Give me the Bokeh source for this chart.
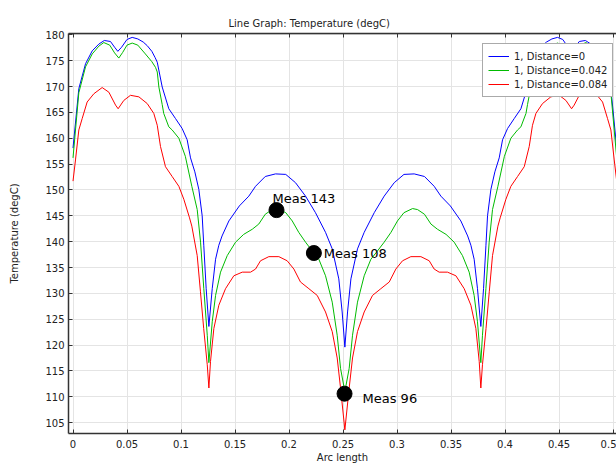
from bokeh.plotting import figure
from bokeh.models import Range1d, FixedTicker, LinearAxis, Title, NumeralTickFormatter
from bokeh.embed import file_html
from bokeh.resources import INLINE
from bokeh.core.properties import value

# ---------------- data ----------------
title_text = "Line Graph: Temperature (degC)"
series_names = ["1, Distance=0", "1, Distance=0.042", "1, Distance=0.084"]

blue_x = [0.0000, 0.0054, 0.0116, 0.0178, 0.0239, 0.0290, 0.0347, 0.0385, 0.0415, 0.0450,
          0.0500, 0.0548, 0.0600, 0.0650, 0.0687, 0.0730, 0.0760, 0.0780, 0.0826, 0.0887,
          0.0949, 0.1010, 0.1057, 0.1088, 0.1128, 0.1165, 0.1196, 0.1211, 0.1233, 0.1258,
          0.1289, 0.1320, 0.1350, 0.1380, 0.1443, 0.1540, 0.1628, 0.1690, 0.1780, 0.1875,
          0.1970, 0.2060, 0.2153, 0.2245, 0.2338, 0.2400, 0.2461, 0.2492, 0.2517,
          0.2542, 0.2573, 0.2634, 0.2696, 0.2789, 0.2881, 0.2974, 0.3064, 0.3159, 0.3254,
          0.3344, 0.3406, 0.3494, 0.3591, 0.3654, 0.3684, 0.3714, 0.3745, 0.3776, 0.3801,
          0.3823, 0.3838, 0.3869, 0.3906, 0.3946, 0.3977, 0.4024, 0.4085, 0.4147, 0.4208,
          0.4254, 0.4274, 0.4304, 0.4347, 0.4384, 0.4434, 0.4486, 0.4534, 0.4584, 0.4619,
          0.4649, 0.4687, 0.4744, 0.4795, 0.4856, 0.4918, 0.4980, 0.5034]
blue_t = [158.1, 169.6, 174.4, 176.9, 178.2, 178.9, 178.7, 177.6, 176.8, 177.6,
          179.1, 179.5, 179.2, 178.6, 177.9, 176.8, 175.6, 174.7, 169.9, 165.7,
          163.8, 161.9, 159.7, 156.2, 153.5, 150.1, 145.0, 139.2, 130.9, 123.6,
          130.9, 136.6, 139.3, 141.1, 144.0, 146.9, 148.8, 150.7, 152.6, 153.1,
          153.0, 151.4, 148.8, 145.6, 141.8, 138.6, 132.8, 126.4, 119.6,
          126.4, 132.8, 138.6, 141.8, 145.6, 148.8, 151.4, 153.0, 153.1, 152.6,
          150.7, 148.8, 146.9, 144.0, 141.1, 139.3, 136.6, 130.9, 123.6, 130.9,
          139.2, 145.0, 150.1, 153.5, 156.2, 159.7, 161.9, 163.8, 165.7, 169.9,
          174.7, 175.6, 176.8, 177.9, 178.6, 179.2, 179.5, 179.1, 177.6, 176.8,
          177.6, 178.7, 178.9, 178.2, 176.9, 174.4, 169.6, 158.1]

green_x = [0.0000, 0.0054, 0.0116, 0.0178, 0.0239, 0.0285, 0.0340, 0.0385, 0.0424, 0.0460,
           0.0500, 0.0548, 0.0600, 0.0670, 0.0730, 0.0764, 0.0780, 0.0795, 0.0826, 0.0840,
           0.0887, 0.0918, 0.0980, 0.1040, 0.1100, 0.1150, 0.1181, 0.1211, 0.1243, 0.1258,
           0.1289, 0.1320, 0.1366, 0.1428, 0.1505, 0.1580, 0.1660, 0.1720, 0.1780, 0.1844,
           0.1890, 0.1970, 0.2030, 0.2090, 0.2153, 0.2215, 0.2276, 0.2338, 0.2400, 0.2446,
           0.2477, 0.2517,
           0.2557, 0.2588, 0.2634, 0.2696, 0.2758, 0.2819, 0.2881, 0.2944, 0.3004, 0.3064,
           0.3144, 0.3190, 0.3254, 0.3314, 0.3374, 0.3454, 0.3529, 0.3606, 0.3668, 0.3714,
           0.3745, 0.3776, 0.3791, 0.3823, 0.3853, 0.3884, 0.3934, 0.3994, 0.4054, 0.4116,
           0.4147, 0.4194, 0.4208, 0.4239, 0.4254, 0.4270, 0.4304, 0.4364, 0.4434, 0.4486,
           0.4534, 0.4574, 0.4610, 0.4649, 0.4694, 0.4749, 0.4795, 0.4856, 0.4918, 0.4980,
           0.5034]
green_t = [156.2, 168.8, 173.8, 176.3, 177.8, 178.5, 178.0, 176.5, 175.5, 176.6,
           178.0, 178.4, 178.0, 176.3, 174.8, 173.7, 172.8, 169.9, 166.5, 164.8,
           162.2, 161.6, 160.0, 156.5, 150.7, 146.2, 139.9, 130.9, 121.9, 116.6,
           124.5, 129.6, 134.1, 137.3, 139.9, 141.4, 142.4, 143.4, 145.3, 146.2,
           146.4, 145.6, 144.0, 141.8, 139.9, 138.2, 136.6, 133.4, 128.3, 121.9,
           115.5, 111.0,
           115.5, 121.9, 128.3, 133.4, 136.6, 138.2, 139.9, 141.8, 144.0, 145.6,
           146.4, 146.2, 145.3, 143.4, 142.4, 141.4, 139.9, 137.3, 134.1, 129.6,
           124.5, 116.6, 121.9, 130.9, 139.9, 146.2, 150.7, 156.5, 160.0, 161.6,
           162.2, 164.8, 166.5, 169.9, 172.8, 173.7, 174.8, 176.3, 178.0, 178.4,
           178.0, 176.6, 175.5, 176.5, 178.0, 178.5, 177.8, 176.3, 173.8, 168.8,
           156.2]

red_x = [0.0000, 0.0023, 0.0054, 0.0085, 0.0131, 0.0193, 0.0270, 0.0332, 0.0394, 0.0418,
         0.0470, 0.0532, 0.0610, 0.0687, 0.0748, 0.0780, 0.0810, 0.0856, 0.0918, 0.0980,
         0.1026, 0.1079, 0.1100, 0.1150, 0.1180, 0.1210, 0.1243, 0.1258, 0.1273, 0.1304,
         0.1350, 0.1412, 0.1489, 0.1567, 0.1644, 0.1690, 0.1736, 0.1813, 0.1906, 0.1983,
         0.2045, 0.2106, 0.2184, 0.2261, 0.2338, 0.2400, 0.2446, 0.2477, 0.2517,
         0.2557, 0.2588, 0.2634, 0.2696, 0.2773, 0.2850, 0.2928, 0.2989, 0.3051, 0.3128,
         0.3221, 0.3298, 0.3344, 0.3390, 0.3467, 0.3545, 0.3622, 0.3684, 0.3730, 0.3761,
         0.3776, 0.3791, 0.3824, 0.3854, 0.3884, 0.3934, 0.3955, 0.4008, 0.4054, 0.4116,
         0.4178, 0.4224, 0.4254, 0.4286, 0.4347, 0.4424, 0.4502, 0.4564, 0.4616, 0.4640,
         0.4702, 0.4764, 0.4841, 0.4903, 0.4949, 0.4980, 0.5011, 0.5034]
red_t = [151.7, 155.8, 161.6, 163.8, 167.0, 168.6, 169.8, 168.9, 166.4, 165.7,
         167.3, 168.3, 168.0, 166.7, 164.8, 162.5, 158.4, 154.5, 152.6, 150.7,
         148.2, 144.6, 143.0, 137.3, 130.3, 123.2, 116.2, 111.7, 116.8, 123.2,
         127.7, 130.9, 133.4, 134.1, 134.1, 134.7, 136.3, 137.1, 137.1, 136.3,
         134.7, 132.2, 130.9, 129.6, 126.4, 122.6, 117.5, 111.7, 103.6,
         111.7, 117.5, 122.6, 126.4, 129.6, 130.9, 132.2, 134.7, 136.3, 137.1,
         137.1, 136.3, 134.7, 134.1, 134.1, 133.4, 130.9, 127.7, 123.2, 116.8,
         111.7, 116.2, 123.2, 130.3, 137.3, 143.0, 144.6, 148.2, 150.7, 152.6,
         154.5, 158.4, 162.5, 164.8, 166.7, 168.0, 168.3, 167.3, 165.7, 166.4,
         168.9, 169.8, 168.6, 167.0, 163.8, 161.6, 155.8, 151.7]

meas_x = [0.1884, 0.2230, 0.2514]
meas_t = [146.1, 137.8, 110.6]
meas_labels = ["Meas 143", "Meas 108", "Meas 96"]

x_ticks = [0, 0.05, 0.1, 0.15, 0.2, 0.25, 0.3, 0.35, 0.4, 0.45, 0.5]
x_tick_labels = ["0", "0.05", "0.1", "0.15", "0.2", "0.25", "0.3", "0.35", "0.4", "0.45", "0.5"]
y_ticks = [105, 110, 115, 120, 125, 130, 135, 140, 145, 150, 155, 160, 165, 170, 175, 180]

# ---------------- styling ----------------
FONT = "DejaVu Sans"
TXT = "#222222"
colors = ["#0000ff", "#00bb00", "#ff0000"]
label_offsets = [(-4, -12), (10, 0), (18, 5)]

p = figure(width=616, height=465, output_backend="svg", toolbar_location=None,
           x_range=Range1d(-0.00417, 0.5032), y_range=Range1d(102.9, 180.25),
           min_border_left=68, min_border_right=0, min_border_top=33, min_border_bottom=29,
           background_fill_color="white", border_fill_color="white", outline_line_color=None)

p.title = Title(text=title_text, align="left", offset=160,
                text_font=FONT, text_font_size="10px",
                text_font_style="normal", text_color=TXT)

xt = FixedTicker(ticks=x_ticks)
yt = FixedTicker(ticks=y_ticks)
p.xaxis.ticker = xt
p.yaxis.ticker = yt
p.xgrid.ticker = xt
p.ygrid.ticker = yt
p.xaxis.formatter = NumeralTickFormatter(format="0.[00]")
p.xaxis.major_label_overrides = {t: s for t, s in zip(x_ticks, x_tick_labels)}

for ax in (p.xaxis[0], p.yaxis[0]):
    ax.major_tick_in = 4
    ax.major_tick_out = 0
    ax.minor_tick_in = 0
    ax.minor_tick_out = 0
    ax.axis_line_color = "#333333"
    ax.axis_line_width = 1.5
    ax.major_tick_line_color = "#333333"
    ax.major_label_text_font = FONT
    ax.major_label_text_font_size = "10px"
    ax.major_label_text_color = TXT
    ax.axis_label_text_font = FONT
    ax.axis_label_text_font_size = "10px"
    ax.axis_label_text_font_style = "normal"
    ax.axis_label_text_color = TXT

p.xaxis.axis_label = "Arc length"
p.yaxis.axis_label = "Temperature (degC)"
p.xaxis.major_label_standoff = 6
p.xaxis.axis_label_standoff = 1
p.yaxis.major_label_standoff = 4
p.yaxis.axis_label_standoff = 22

top = LinearAxis(ticker=xt, major_label_overrides={t: "" for t in x_ticks},
                 major_label_standoff=0,
                 major_tick_in=4, major_tick_out=0, minor_tick_in=0, minor_tick_out=0,
                 axis_line_color="#333333", axis_line_width=1.5,
                 major_tick_line_color="#333333")
p.add_layout(top, "above")

p.grid.grid_line_color = "#e4e4e4"
p.grid.grid_line_width = 1

for xs, ts, c, name in zip([blue_x, green_x, red_x], [blue_t, green_t, red_t], colors, series_names):
    p.line(xs, ts, line_color=c, line_width=1, legend_label=name)

p.scatter(meas_x, meas_t, size=15, color="black")
for x, t, s, (dx, dy) in zip(meas_x, meas_t, meas_labels, label_offsets):
    p.text([x], [t], text=[s], x_offset=dx, y_offset=dy, text_font=value(FONT),
           text_font_size="13px", text_color="black", text_baseline="middle",
           text_align="left")

lg = p.legend[0]
lg.location = (414, 336)
lg.label_text_font = FONT
lg.label_text_font_size = "10px"
lg.label_text_color = TXT
lg.glyph_width = 21
lg.glyph_height = 14
lg.label_height = 14
lg.spacing = 0
lg.padding = 5
lg.margin = 0
lg.label_standoff = 5
lg.border_line_color = "#555555"
lg.border_line_width = 1
lg.background_fill_color = "white"
lg.background_fill_alpha = 1

open("out.html", "w").write(file_html(p, INLINE))
